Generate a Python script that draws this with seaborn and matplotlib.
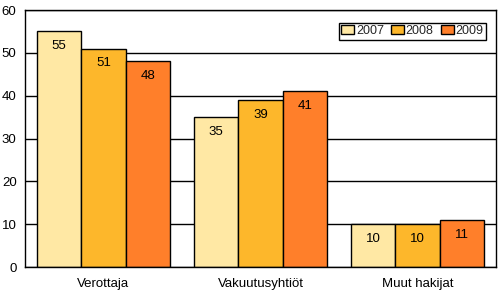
import matplotlib
matplotlib.use("Agg")
import matplotlib.pyplot as plt
import seaborn as sns
import pandas as pd

categories = ["Verottaja", "Vakuutusyhtiöt", "Muut hakijat"]
years = ["2007", "2008", "2009"]
v2007 = [55, 35, 10]
v2008 = [51, 39, 10]
v2009 = [48, 41, 11]
colors = ["#FFE8A4", "#FDB72B", "#FF7F2A"]

rows = []
for y, vals in zip(years, [v2007, v2008, v2009]):
    for c, v in zip(categories, vals):
        rows.append({"cat": c, "year": y, "value": v})
df = pd.DataFrame(rows)

sns.set_style("white")
plt.rcParams['font.family'] = ['Liberation Sans', 'DejaVu Sans']

fig = plt.figure(figsize=(4.99, 2.92), dpi=100)
ax = fig.add_axes([0.050, 0.0856, 0.944, 0.880])
ax.set_axisbelow(True)
ax.yaxis.grid(True, color="black", linewidth=1)
sns.barplot(data=df, x="cat", y="value", hue="year", palette=colors,
            edgecolor="black", linewidth=1, width=0.85, ax=ax, saturation=1)

for cont in ax.containers:
    ax.bar_label(cont, padding=-15, fontsize=9.5, color="black")

ax.set_ylim(0, 60)
ax.set_yticks(range(0, 61, 10))
ax.set_xlim(-0.5, 2.5)
ax.set_xlabel("")
ax.set_ylabel("")
ax.tick_params(axis="both", labelsize=9.5, colors="black", length=0, pad=8)
ax.tick_params(axis="y", length=3, width=1, direction="out", pad=3)
for s in ax.spines.values():
    s.set_color("black")
    s.set_linewidth(1)
ax.legend(loc="upper right", ncol=3, fontsize=9, frameon=True, fancybox=False,
          edgecolor="black", framealpha=1, handlelength=1.0, handleheight=0.7,
          handletextpad=0.15, columnspacing=0.6, borderpad=0.2,
          bbox_to_anchor=(0.992, 0.975))
ax.get_legend().get_frame().set_linewidth(1)
fig.savefig("out.png", dpi=100)
